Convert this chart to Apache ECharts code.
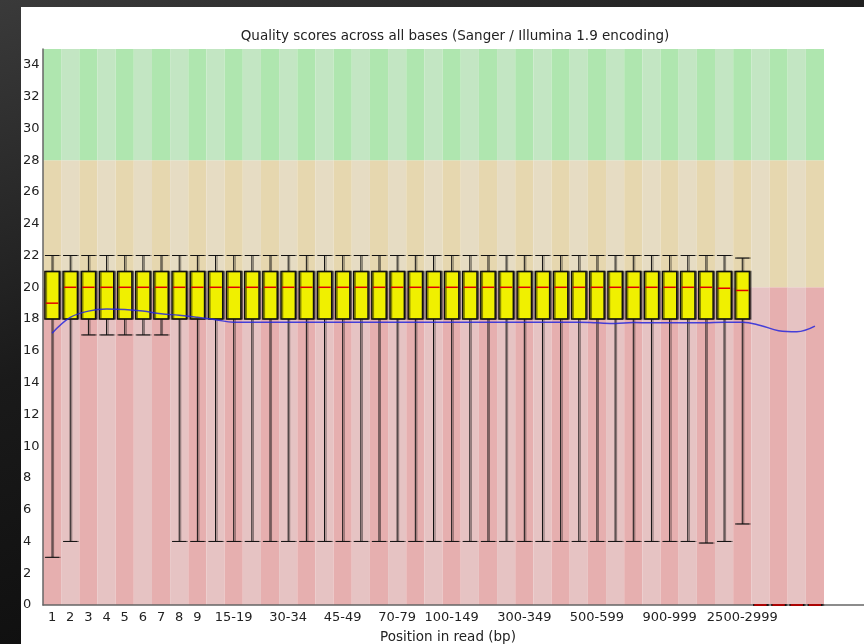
<!DOCTYPE html>
<html>
<head>
<meta charset="utf-8">
<script src="https://cdn.jsdelivr.net/npm/echarts@6/dist/echarts.min.js"></script>
<style>
  html, body { margin: 0; padding: 0; width: 864px; height: 644px; overflow: hidden; }
  body { background: linear-gradient(160deg, #3a3a3a 0%, #1a1a1a 40%, #050505 100%); position: relative; }
  #panel { position: absolute; left: 21px; top: 7px; right: 0; bottom: 0; background: #fff; }
  #chart { position: absolute; left: 0; top: 0; width: 864px; height: 644px; }
</style>
</head>
<body>
<div id="panel"></div>
<div id="chart"></div>
<script>
// Position groups along the read
const categories = [
    '1', '2', '3', '4', '5', '6', '7', '8', '9',
    '10-14', '15-19', '20-24', '25-29', '30-34', '35-39', '40-44', '45-49',
    '50-59', '60-69', '70-79', '80-89', '90-99',
    '100-149', '150-199', '200-249', '250-299', '300-349', '350-399', '400-449', '450-499',
    '500-599', '600-699', '700-799', '800-899', '900-999',
    '1000-1499', '1500-1999', '2000-2499', '2500-2999',
    '3000-3499', '3500-3999', '4000-4499', '4500-4999'
];

// labels that are printed under the axis
const shownLabels = ['1', '2', '3', '4', '5', '6', '7', '8', '9',
    '15-19', '30-34', '45-49', '70-79', '100-149', '300-349', '500-599', '900-999', '2500-2999'];

// box plot values per position
const lowerWhisker = [3, 4, 17, 17, 17, 17, 17, 4, 4, 4, 4, 4, 4, 4, 4, 4, 4, 4, 4, 4, 4, 4,
    4, 4, 4, 4, 4, 4, 4, 4, 4, 4, 4, 4, 4, 4, 3.9, 4, 5.1, 0, 0, 0, 0];
const lowerQuartile = [18, 18, 18, 18, 18, 18, 18, 18, 18, 18, 18, 18, 18, 18, 18, 18, 18, 18, 18, 18, 18, 18,
    18, 18, 18, 18, 18, 18, 18, 18, 18, 18, 18, 18, 18, 18, 18, 18, 18, 0, 0, 0, 0];
const medians = [19, 20, 20, 20, 20, 20, 20, 20, 20, 20, 20, 20, 20, 20, 20, 20, 20, 20, 20, 20, 20, 20,
    20, 20, 20, 20, 20, 20, 20, 20, 20, 20, 20, 20, 20, 20, 20, 19.94, 19.8, 0, 0, 0, 0];
const upperQuartile = [21, 21, 21, 21, 21, 21, 21, 21, 21, 21, 21, 21, 21, 21, 21, 21, 21, 21, 21, 21, 21, 21,
    21, 21, 21, 21, 21, 21, 21, 21, 21, 21, 21, 21, 21, 21, 21, 21, 21, 0, 0, 0, 0];
const upperWhisker = [22, 22, 22, 22, 22, 22, 22, 22, 22, 22, 22, 22, 22, 22, 22, 22, 22, 22, 22, 22, 22, 22,
    22, 22, 22, 22, 22, 22, 22, 22, 22, 22, 22, 22, 22, 22, 22, 22, 21.84, 0, 0, 0, 0];

// mean quality (blue line)
const meanQuality = [17.1, 18.1, 18.5, 18.63, 18.6, 18.5, 18.33, 18.24, 18.11, 17.96, 17.8, 17.8, 17.8, 17.8,
    17.8, 17.8, 17.8, 17.8, 17.8, 17.8, 17.8, 17.8, 17.8, 17.8, 17.8, 17.8, 17.8, 17.8, 17.8, 17.8,
    17.76, 17.72, 17.78, 17.76, 17.76, 17.76, 17.77, 17.8, 17.8, 17.6, 17.27, 17.2, 17.55];

// quality zones: bad / ok / good
const zoneBounds = [0, 20, 28, 35];
const zoneColors = [
    ['rgb(230,175,175)', 'rgb(230,195,195)'],
    ['rgb(230,215,175)', 'rgb(230,220,195)'],
    ['rgb(175,230,175)', 'rgb(195,230,195)']
];

const chart = echarts.init(document.getElementById('chart'));

const gridLeft = 43, gridTop = 49, gridRight = 40, gridBottom = 39;

function renderZones(params, api) {
    const idx = api.value(0);
    const w = api.size([1, 0])[0];
    const children = [];
    for (let z = 0; z < zoneColors.length; z++) {
        const top = api.coord([idx, zoneBounds[z + 1]]);
        const bottom = api.coord([idx, zoneBounds[z]]);
        children.push({
            type: 'rect',
            shape: { x: top[0] - w / 2, y: top[1], width: w, height: bottom[1] - top[1] },
            style: { fill: zoneColors[z][idx % 2] }
        });
    }
    return { type: 'group', children: children };
}

function renderBox(params, api) {
    const idx = api.value(0);
    const w = api.size([1, 0])[0] * 0.79;
    const lo = api.coord([idx, api.value(1)]);
    const q1 = api.coord([idx, api.value(2)]);
    const med = api.coord([idx, api.value(3)]);
    const q3 = api.coord([idx, api.value(4)]);
    const hi = api.coord([idx, api.value(5)]);
    const x = lo[0], l = x - w / 2, r = x + w / 2;
    const shadow = { shadowColor: 'rgba(0,0,0,0.45)', shadowOffsetX: 1.5, shadowOffsetY: 0, shadowBlur: 0 };
    const lineStyle = Object.assign({ stroke: '#111', lineWidth: 1 }, shadow);
    return {
        type: 'group',
        children: [
            { type: 'line', shape: { x1: x, y1: hi[1], x2: x, y2: q3[1] }, style: lineStyle },
            { type: 'line', shape: { x1: l, y1: hi[1], x2: r, y2: hi[1] }, style: lineStyle },
            { type: 'line', shape: { x1: x, y1: q1[1], x2: x, y2: lo[1] }, style: lineStyle },
            { type: 'line', shape: { x1: l, y1: lo[1], x2: r, y2: lo[1] }, style: lineStyle },
            {
                type: 'rect',
                shape: { x: l, y: q3[1], width: w, height: q1[1] - q3[1] },
                style: Object.assign({ fill: '#f0f000', stroke: '#111', lineWidth: 1.5 }, shadow)
            },
            { type: 'line', shape: { x1: l + 1, y1: med[1], x2: r - 1, y2: med[1] }, style: { stroke: '#e00000', lineWidth: 1.5 } }
        ]
    };
}

const zoneData = categories.map((c, i) => [i]);
const boxData = categories.map((c, i) =>
    [i, lowerWhisker[i], lowerQuartile[i], medians[i], upperQuartile[i], upperWhisker[i]]);

const option = {
    animation: false,
    textStyle: { fontFamily: 'DejaVu Sans' },
    title: {
        text: 'Quality scores across all bases (Sanger / Illumina 1.9 encoding)',
        left: 450,
        top: 24,
        textAlign: 'center',
        textStyle: { fontSize: 13.5, fontWeight: 'normal', color: '#222', fontFamily: 'DejaVu Sans' }
    },
    grid: { left: gridLeft, top: gridTop, right: gridRight, bottom: gridBottom, outerBoundsMode: 'none', containLabel: false },
    xAxis: {
        type: 'category',
        data: categories,
        name: 'Position in read (bp)',
        nameLocation: 'middle',
        nameGap: 25,
        nameTextStyle: { fontSize: 13.5, color: '#222', padding: [0, 0, 0, 29] },
        axisLine: { lineStyle: { color: '#666', width: 1.5 } },
        axisTick: { show: false },
        axisLabel: {
            interval: (i, v) => shownLabels.includes(v),
            fontSize: 13,
            color: '#222',
            margin: 6
        },
        splitLine: { show: false }
    },
    yAxis: {
        type: 'value',
        min: 0,
        max: 35,
        interval: 2,
        axisLine: { show: true, lineStyle: { color: '#666', width: 1.5 } },
        axisTick: { show: false },
        axisLabel: { fontSize: 13, color: '#222', align: 'left', margin: 20, showMaxLabel: false, padding: [7, 0, 0, 0] },
        splitLine: { show: false }
    },
    graphic: [{
        type: 'line',
        shape: { x1: 864 - gridRight, y1: 644 - gridBottom, x2: 864, y2: 644 - gridBottom },
        style: { stroke: '#666', lineWidth: 1.5 },
        z: 10
    }],
    series: [
        {
            type: 'custom',
            renderItem: renderZones,
            data: zoneData,
            encode: { x: 0 },
            silent: true,
            z: 0
        },
        {
            type: 'custom',
            renderItem: renderBox,
            data: boxData,
            encode: { x: 0, y: [1, 5] },
            z: 2
        },
        {
            type: 'line',
            data: meanQuality,
            smooth: 0.4,
            symbol: 'none',
            lineStyle: { color: 'rgba(40,40,220,0.85)', width: 1.5 },
            z: 3
        }
    ]
};

chart.setOption(option);
</script>
</body>
</html>
